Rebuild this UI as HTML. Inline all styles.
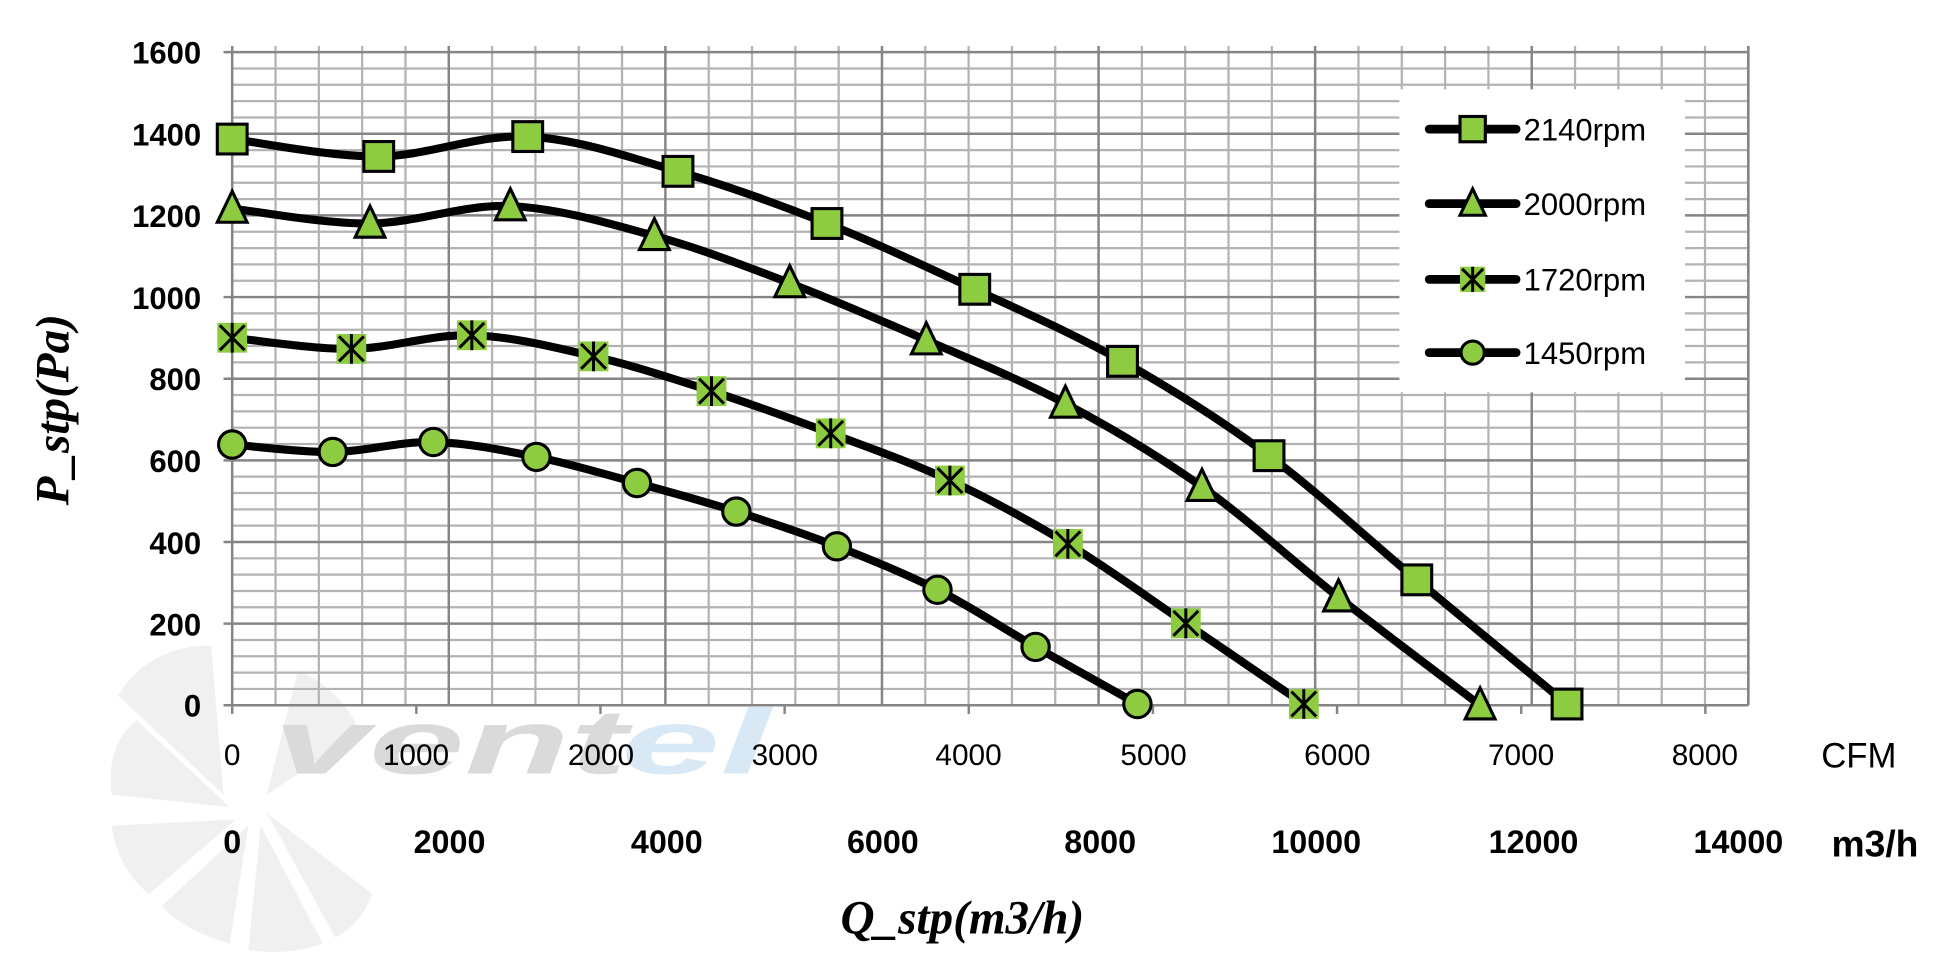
<!DOCTYPE html>
<html><head><meta charset="utf-8"><style>
html,body{margin:0;padding:0;background:#fff;}
svg{display:block}
.yt{font:bold 25px "Liberation Sans Narrow","Liberation Sans",sans-serif;text-anchor:end}
.ct{font:24px "Liberation Sans Narrow","Liberation Sans",sans-serif;text-anchor:middle}
.mt{font:bold 26px "Liberation Sans Narrow","Liberation Sans",sans-serif;text-anchor:middle}
.lg{font:25px "Liberation Sans",sans-serif}
</style></head><body>
<svg id="s" width="1947" height="967" viewBox="0 0 1568 778.8" preserveAspectRatio="none" xmlns="http://www.w3.org/2000/svg">
<g id="wm">
 <g fill="#f0f0f0">
  <path d="M180 640 L95 560 Q120 520 170 520 Z"/>
  <path d="M185 650 L90 640 Q85 600 110 580 Z"/>
  <path d="M190 660 L120 720 Q95 700 90 665 Z"/>
  <path d="M200 665 L185 760 Q150 750 130 730 Z"/>
  <path d="M210 665 L260 760 Q230 770 200 765 Z"/>
  <path d="M215 655 L300 720 Q290 745 270 755 Z"/>
  <path d="M215 640 L240 540 Q275 555 290 590 Z"/>
 </g>
 <text x="220" y="623" font-family="Liberation Sans,sans-serif" font-weight="bold" font-style="italic" font-size="74" fill="#dadada" textLength="285" lengthAdjust="spacingAndGlyphs">vent</text>
 <text x="500" y="623" font-family="Liberation Sans,sans-serif" font-weight="bold" font-style="italic" font-size="74" fill="#d8e8f5" textLength="120" lengthAdjust="spacingAndGlyphs">el</text>
</g>
<g id="grid"></g>
<rect x="1127" y="72" width="230" height="244" fill="#fff"/>
<g id="curves"></g>
<g>
<text class="yt" x="162" y="51">1600</text>
<text class="yt" x="162" y="117">1400</text>
<text class="yt" x="162" y="183">1200</text>
<text class="yt" x="162" y="249">1000</text>
<text class="yt" x="162" y="314">800</text>
<text class="yt" x="162" y="380">600</text>
<text class="yt" x="162" y="446">400</text>
<text class="yt" x="162" y="512">200</text>
<text class="yt" x="162" y="577">0</text>
<text class="ct" x="187" y="616">0</text>
<text class="ct" x="335" y="616">1000</text>
<text class="ct" x="484" y="616">2000</text>
<text class="ct" x="632" y="616">3000</text>
<text class="ct" x="780" y="616">4000</text>
<text class="ct" x="929" y="616">5000</text>
<text class="ct" x="1077" y="616">6000</text>
<text class="ct" x="1225" y="616">7000</text>
<text class="ct" x="1373" y="616">8000</text>
<text x="1497" y="618" font-family="Liberation Sans,sans-serif" font-size="28" text-anchor="middle">CFM</text>
<text class="mt" x="187" y="687">0</text>
<text class="mt" x="362" y="687">2000</text>
<text class="mt" x="537" y="687">4000</text>
<text class="mt" x="711" y="687">6000</text>
<text class="mt" x="886" y="687">8000</text>
<text class="mt" x="1060" y="687">10000</text>
<text class="mt" x="1235" y="687">12000</text>
<text class="mt" x="1400" y="687">14000</text>
<text x="1510" y="690" font-family="Liberation Sans,sans-serif" font-weight="bold" font-size="30" text-anchor="middle">m3/h</text>
<text x="775" y="752" font-family="Liberation Serif,serif" font-weight="bold" font-style="italic" font-size="38" text-anchor="middle">Q_stp(m3/h)</text>
<text transform="translate(55,330) rotate(-90)" font-family="Liberation Serif,serif" font-weight="bold" font-style="italic" font-size="38" text-anchor="middle">P_stp(Pa)</text>
<text class="lg" x="1227" y="113">2140rpm</text>
<text class="lg" x="1227" y="173">2000rpm</text>
<text class="lg" x="1227" y="234">1720rpm</text>
<text class="lg" x="1227" y="293">1450rpm</text>
</g>
</svg>
<script>
var NS="http://www.w3.org/2000/svg";
function el(p,t,a){var e=document.createElementNS(NS,t);for(var k in a)e.setAttribute(k,a[k]);p.appendChild(e);return e;}
var g=document.getElementById('grid');
var L=187,R=1408,T=42,B=568;
for(var i=0;i<=40;i++){var y=B-(B-T)*i/40;if(i%5)el(g,'line',{x1:L,x2:R,y1:y,y2:y,stroke:'#b3b3b3','stroke-width':1.8});}
var dx=(R-L)/35;
for(var i=0;i<=35;i++){var x=L+dx*i;if(i%5)el(g,'line',{x1:x,x2:x,y1:T-5,y2:B,stroke:'#b3b3b3','stroke-width':1.8});}
for(var i=0;i<=40;i+=5){var y=B-(B-T)*i/40;el(g,'line',{x1:L-7,x2:R,y1:y,y2:y,stroke:'#858585','stroke-width':2});}
for(var i=0;i<=35;i+=5){var x=L+dx*i;el(g,'line',{x1:x,x2:x,y1:T-5,y2:B,stroke:'#858585','stroke-width':2});}
el(g,'line',{x1:R,x2:R,y1:T-5,y2:B,stroke:'#858585','stroke-width':2});
for(var i=0;i<=8;i++){var x=L+148.3*i;el(g,'line',{x1:x,x2:x,y1:B,y2:B+7,stroke:'#858585','stroke-width':2});}
var data=[
 ['sq',[[187,112],[305,126],[425,110],[546,138],[666,180],[785,233],[904,291],[1022,367],[1141,467],[1262,567]]],
 ['tr',[[187,168],[298,180],[411,166],[527,190],[636,228],[746,274],[858,325],[968,392],[1078,481],[1192,568]]],
 ['as',[[187,272],[283,281],[380,270],[478,287],[573,315],[669,349],[765,387],[860,438],[955,502],[1050,567]]],
 ['ci',[[187,358],[268,364],[349,356],[432,368],[513,389],[593,412],[674,440],[755,475],[834,521],[916,567]]]];
var c=document.getElementById('curves');
function path(p){var d='M'+p[0][0]+' '+p[0][1];for(var i=0;i<p.length-1;i++){var p0=p[i-1]||p[i],p1=p[i],p2=p[i+1],p3=p[i+2]||p2;
 d+=' C'+(p1[0]+(p2[0]-p0[0])/6)+' '+(p1[1]+(p2[1]-p0[1])/6)+' '+(p2[0]-(p3[0]-p1[0])/6)+' '+(p2[1]-(p3[1]-p1[1])/6)+' '+p2[0]+' '+p2[1];}return d;}
function mk(t,x,y,s){var G='#8dcb41';s=s||1;
 if(t=='sq')el(c,'rect',{x:x-12*s,y:y-12*s,width:24*s,height:24*s,fill:G,stroke:'#000','stroke-width':2.5});
 if(t=='tr')el(c,'polygon',{points:(x)+','+(y-14*s)+' '+(x+12*s)+','+(y+11*s)+' '+(x-12*s)+','+(y+11*s),fill:G,stroke:'#000','stroke-width':2.5});
 if(t=='ci')el(c,'circle',{cx:x,cy:y,r:11*s,fill:G,stroke:'#000','stroke-width':2.5});
 if(t=='as'){el(c,'rect',{x:x-12*s,y:y-12*s,width:24*s,height:24*s,fill:G});
  var a=10*s;el(c,'path',{d:'M'+(x-a)+' '+(y-a)+'L'+(x+a)+' '+(y+a)+'M'+(x+a)+' '+(y-a)+'L'+(x-a)+' '+(y+a)+'M'+x+' '+(y-12*s)+'L'+x+' '+(y+12*s),stroke:'#000','stroke-width':2.4});}}
data.forEach(function(s){el(c,'path',{d:path(s[1]),fill:'none',stroke:'#000','stroke-width':6.5,'stroke-linejoin':'round'});
 s[1].forEach(function(p){mk(s[0],p[0],p[1]);});});
var ly=[104,164,225,284];
data.forEach(function(s,i){el(c,'line',{x1:1151,x2:1221,y1:ly[i],y2:ly[i],stroke:'#000','stroke-width':7,'stroke-linecap':'round'});mk(s[0],1186,ly[i],0.85);});
</script>
</body></html>
